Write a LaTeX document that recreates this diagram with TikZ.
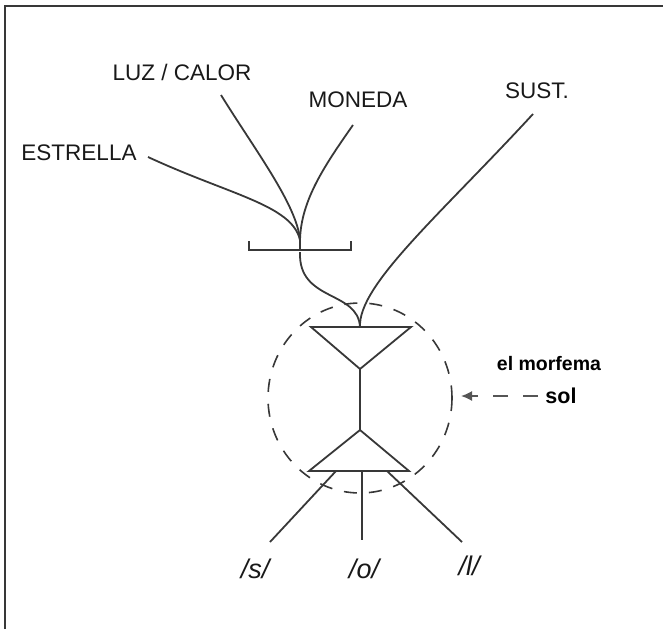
\documentclass[tikz,border=0pt]{standalone}
\usepackage{fontspec}
\setmainfont{Liberation Sans}
\usetikzlibrary{arrows.meta}
\definecolor{ink}{HTML}{383838}
\definecolor{dash}{HTML}{555555}
\begin{document}
\begin{tikzpicture}[x=1pt,y=-1pt,
  ln/.style={draw=ink,line width=1.8pt},
  lab/.style={inner sep=0pt,text=black!90,font=\fontsize{22.5}{26}\selectfont},
  phon/.style={inner sep=0pt,text=black!90,font=\fontsize{27}{30}\selectfont\itshape},
  frame/.style={draw=ink,line width=1.6pt}]
\useasboundingbox (0,0) rectangle (663,629);
\draw[frame] (5,629) -- (5,6) -- (663,6);

% labels
\node[lab] (estrella) at (79,153) {ESTRELLA};
\node[lab] (luz) at (182,72) {LUZ / CALOR};
\node[lab] (moneda) at (358,100) {MONEDA};
\node[lab] (sust) at (537,91) {SUST.};

% junction and bracket
\coordinate (j) at (300,240);
\coordinate (e1) at (148,157);
\coordinate (l1) at (221,95);
\coordinate (m1) at (353,125);
\coordinate (s1) at (533,114);
\draw[ln] (e1) .. controls (230,195) and (292,205) .. (j);
\draw[ln] (l1) .. controls (255,150) and (297,205) .. (j);
\draw[ln] (m1) .. controls (325,165) and (301,200) .. (j);
\draw[ln] (j) -- (300,250);
\draw[ln] (249,241) -- (249,250) -- (351,250) -- (351,241);

% upper triangle
\coordinate (ut) at (360,327);
\draw[ln] (311,327) -- (411,327) -- (360,369) -- cycle;
\draw[ln] (300,252) .. controls (298,302) and (358,290) .. (ut);
\draw[ln] (s1) .. controls (440,215) and (358,285) .. (ut);

% stem
\draw[ln] (360,369) -- (360,430);

% lower triangle
\draw[ln] (360,430) -- (409,471) -- (309,471) -- cycle;

% phoneme lines
\node[phon] (s) at (255,569) {/s/};
\node[phon] (o) at (364,569) {/o/};
\node[phon] (l) at (469,566) {/l/};
\draw[ln] (336,471) -- (270,542);
\draw[ln] (362,471) -- (362,540);
\draw[ln] (387,471) -- (462,542);

% dashed ellipse
\draw[draw=ink,line width=1.6pt,dash pattern=on 13pt off 12pt] (360,398) ellipse [x radius=92, y radius=95];

% morfema label
\node[inner sep=0pt,font=\fontsize{19.5}{22}\selectfont\bfseries] (morf) at (549,364) {el morfema};
\node[inner sep=0pt,font=\fontsize{21.5}{24}\selectfont\bfseries] (sol) at (561,396) {sol};
\draw[draw=dash,line width=1.6pt,dash pattern=on 15pt off 15pt,-{Latex[length=11pt,width=10pt]}] (538,396) -- (461,396);
\end{tikzpicture}
\end{document}
